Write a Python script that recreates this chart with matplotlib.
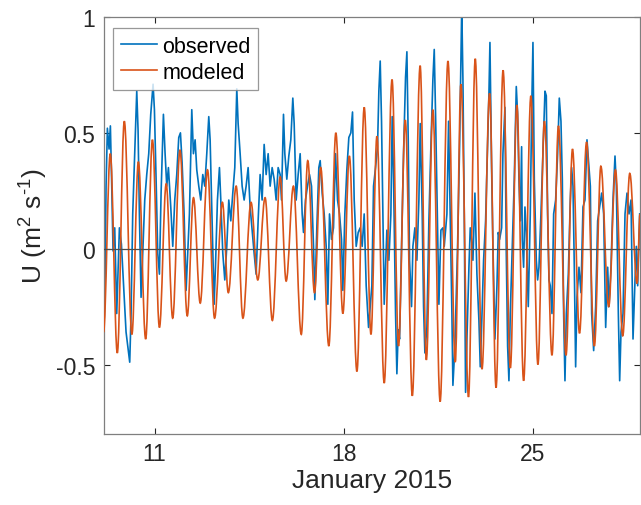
import matplotlib.pyplot as plt
from matplotlib.ticker import FixedLocator, FixedFormatter
from matplotlib.path import Path
from matplotlib.patches import PathPatch
from matplotlib.lines import Line2D

plt.rcParams['font.family'] = ['Liberation Sans', 'DejaVu Sans']
plt.rcParams['mathtext.fontset'] = 'custom'
plt.rcParams['mathtext.rm'] = 'Liberation Sans'
plt.rcParams['mathtext.it'] = 'Liberation Sans:italic'

# time axis is day of January 2015
obs_day = [9.11, 9.16, 9.204, 9.253, 9.315, 9.364, 9.414, 9.463, 9.525, 9.599, 9.698, 9.772, 9.846, 9.944,
           10.080, 10.130, 10.191, 10.265, 10.340, 10.389, 10.438, 10.500, 10.562, 10.636, 10.710, 10.784,
           10.858, 10.944, 10.994, 11.056, 11.117, 11.179, 11.241, 11.327, 11.389, 11.451, 11.512, 11.599,
           11.673, 11.747, 11.821, 11.895, 11.957, 12.019, 12.093, 12.167, 12.216, 12.290,
           12.377, 12.438, 12.500, 12.562, 12.636, 12.710, 12.784, 12.858, 12.932, 13.006, 13.056, 13.130,
           13.204, 13.253, 13.327, 13.401, 13.451, 13.525, 13.599, 13.673, 13.747, 13.821, 13.895, 13.969,
           14.043, 14.093, 14.167, 14.241, 14.315, 14.389, 14.463, 14.537, 14.611, 14.685, 14.759, 14.833,
           14.907, 14.981, 15.056, 15.130, 15.204, 15.278, 15.352, 15.426, 15.500, 15.574,
           15.648, 15.698, 15.772, 15.821, 15.895, 15.969, 16.043, 16.117, 16.167, 16.241, 16.315, 16.389,
           16.463, 16.512, 16.586, 16.660, 16.735, 16.809, 16.883, 16.932, 17.006, 17.080, 17.130, 17.204,
           17.278, 17.352, 17.414, 17.475, 17.549, 17.623, 17.698, 17.772, 17.846, 17.920, 17.969, 18.043,
           18.117, 18.191, 18.265, 18.327, 18.389, 18.463, 18.537, 18.611, 18.685, 18.759, 18.833, 18.920,
           19.043, 19.105, 19.179, 19.253, 19.302, 19.352, 19.401, 19.451, 19.500, 19.549, 19.599, 19.673,
           19.747, 19.796, 19.846, 19.920, 19.969, 20.019, 20.068, 20.142, 20.216, 20.290, 20.340, 20.389,
           20.438, 20.512, 20.562, 20.636, 20.710, 20.784, 20.833, 20.907, 20.957, 21.006, 21.080, 21.154,
           21.228, 21.302, 21.352, 21.401, 21.451, 21.525, 21.599, 21.673, 21.722, 21.821, 21.883, 21.944,
           22.006, 22.043, 22.117, 22.216, 22.290, 22.364,
           22.377, 22.414, 22.463, 22.512, 22.562, 22.636, 22.685, 22.735, 22.784, 22.858, 22.932, 23.006,
           23.056, 23.105, 23.179, 23.253, 23.327, 23.377, 23.414, 23.475, 23.525, 23.599, 23.673, 23.722,
           23.772, 23.846, 23.895, 23.969, 24.019, 24.068, 24.117, 24.167, 24.241, 24.315, 24.389, 24.438,
           24.488, 24.537, 24.586, 24.611, 24.660, 24.710, 24.759, 24.833, 24.907, 24.957, 25.006, 25.056,
           25.130, 25.179, 25.228, 25.302, 25.377, 25.451, 25.500, 25.549, 25.599,
           25.648, 25.710, 25.772, 25.846, 25.920, 25.981, 26.043, 26.093, 26.142, 26.191, 26.241, 26.315,
           26.389, 26.438, 26.488, 26.537, 26.586, 26.636, 26.710, 26.784, 26.858, 26.932, 27.006, 27.080,
           27.130, 27.179, 27.253, 27.327, 27.401, 27.475, 27.549, 27.623, 27.698, 27.772, 27.821, 27.895,
           27.969, 28.043, 28.093, 28.167, 28.216, 28.265, 28.340, 28.414, 28.488, 28.562, 28.636, 28.710,
           28.784, 28.833, 28.883, 28.957]
obs_val = [-0.40, -0.20, 0.27, 0.52, 0.43, 0.53, 0.27, -0.01, 0.09, -0.28, 0.09, 0.02, -0.14, -0.36,
           -0.49, -0.28, 0.15, 0.41, 0.68, 0.51, 0.15, -0.21, -0.02, 0.21, 0.32, 0.41,
           0.58, 0.71, 0.60, 0.30, -0.02, -0.11, 0.24, 0.58, 0.41, 0.27, 0.35, 0.18,
           0.01, 0.21, 0.32, 0.48, 0.50, 0.37, 0.15, -0.18, -0.05, 0.15,
           0.60, 0.41, 0.47, 0.34, 0.27, 0.21, 0.32, 0.27, 0.41, 0.57, 0.47, 0.12,
           -0.24, -0.08, 0.21, 0.35, 0.21, -0.02, -0.135, 0.01, 0.21, 0.12, 0.24, 0.35,
           0.69, 0.54, 0.41, 0.27, 0.21, 0.27, 0.35, 0.18, 0.08, -0.02, -0.11, 0.12,
           0.32, 0.21, 0.45, 0.32, 0.41, 0.27, 0.35, 0.30, 0.21, 0.35,
           0.32, 0.21, 0.58, 0.41, 0.30, 0.40, 0.47, 0.65, 0.54, 0.21, 0.32, 0.41,
           0.15, 0.07, 0.21, 0.27, 0.32, 0.27, 0.01, -0.22, 0.09, 0.35, 0.38, 0.24,
           0.15, 0.01, -0.24, 0.15, 0.04, 0.09, 0.41, 0.21, 0.15, 0.04, -0.18, 0.15,
           0.34, 0.48, 0.50, 0.59, 0.21, 0.01, 0.07, 0.09, 0.01, 0.15, -0.16, -0.34,
           -0.16, 0.27, 0.35, 0.44, 0.68, 0.81, 0.55, 0.15, -0.24, -0.08, 0.08, -0.05,
           0.15, 0.57, 0.30, -0.28, -0.54, -0.35, -0.39, 0.01, 0.41, 0.74, 0.85, 0.47,
           -0.05, -0.25, 0.01, 0.09, -0.05, 0.21, 0.54, 0.15, -0.25, -0.45, -0.34, 0.12,
           0.44, 0.73, 0.86, 0.58, 0.24, -0.24, 0.08, 0.09, 0.01, 0.15, 0.55, 0.15,
           -0.28, -0.59, -0.42, 0.01, 0.44, 1.00,
           1.00, 0.73, 0.15, -0.62, -0.39, -0.08, 0.09, 0.04, -0.05, 0.24, -0.11, -0.31,
           -0.51, -0.34, -0.05, 0.12, 0.44, 0.67, 0.89, 0.35, 0.01, -0.39, -0.16, 0.07,
           0.04, 0.09, 0.41, 0.61, -0.02, -0.42, -0.57, -0.28, 0.01, 0.30, 0.70, 0.58,
           0.30, 0.12, 0.44, 0.04, -0.08, 0.18, 0.07, -0.25, 0.15, 0.58, 0.89, 0.30,
           -0.05, -0.135, -0.08, 0.15, 0.41, 0.68, 0.66, 0.15, -0.135,
           -0.16, -0.28, 0.15, 0.21, 0.41, 0.65, 0.55, 0.30, -0.28, -0.57, -0.28, -0.11,
           0.21, 0.35, 0.27, -0.08, -0.51, -0.21, -0.08, -0.19, 0.18, 0.21, 0.47, 0.35,
           0.27, -0.28, -0.44, -0.25, 0.12, 0.18, 0.24, 0.15, -0.34, -0.08, -0.25, -0.08,
           0.21, 0.40, 0.27, -0.28, -0.57, -0.36, -0.28, 0.15, 0.24, 0.15, 0.21, -0.39,
           -0.135, 0.01, -0.16, 0.15]

# modeled: successive high/low water extremes
mod_day = [9.11, 9.36, 9.62, 9.88, 10.16, 10.40, 10.67, 10.92, 11.18, 11.43, 11.67, 11.94, 12.21, 12.44,
           12.69, 12.96, 13.22, 13.51, 13.73, 14.02, 14.27, 14.57, 14.82, 15.09, 15.36, 15.65, 15.87,
           16.14, 16.43, 16.67, 16.92, 17.15, 17.45, 17.71, 17.97, 18.21, 18.49, 18.76, 19.01, 19.23,
           19.50, 19.79, 20.03, 20.28, 20.54, 20.83, 21.06, 21.30, 21.57, 21.86, 22.13, 22.34, 22.62,
           22.87, 23.12, 23.40, 23.64, 23.90, 24.17, 24.41, 24.66, 24.93, 25.19, 25.43, 25.71, 25.95,
           26.23, 26.47, 26.73, 26.99, 27.28, 27.52, 27.81, 28.06, 28.33, 28.59, 28.86, 28.97]
mod_val = [-0.36, 0.41, -0.45, 0.55, -0.37, 0.375, -0.39, 0.47, -0.34, 0.28, -0.30, 0.425, -0.29, 0.22,
           -0.235, 0.34, -0.30, 0.20, -0.19, 0.27, -0.30, 0.20, -0.135, 0.22, -0.31, 0.31, -0.14,
           0.27, -0.37, 0.38, -0.19, 0.35, -0.42, 0.50, -0.28, 0.40, -0.53, 0.61, -0.37, 0.485,
           -0.58, 0.73, -0.42, 0.555, -0.635, 0.79, -0.48, 0.60, -0.66, 0.81, -0.49, 0.71, -0.64,
           0.82, -0.52, 0.67, -0.60, 0.77, -0.515, 0.62, -0.57, 0.66, -0.50, 0.55, -0.46, 0.53,
           -0.46, 0.43, -0.365, 0.46, -0.42, 0.356, -0.25, 0.34, -0.376, 0.325, -0.15, 0.15]

xticks = [11, 18, 25]
yticks = [-0.5, 0, 0.5, 1]
ytick_labels = ['-0.5', '0', '0.5', '1']

c_obs = '#0072BD'
c_mod = '#D95319'

fig = plt.figure(figsize=(6.41, 5.06), dpi=100)
ax = fig.add_axes([0.1615, 0.1403, 0.8370, 0.8241])

ax.plot(obs_day, obs_val, color=c_obs, lw=1.2, zorder=2)

# modeled curve: smooth bezier segments between the extremes (flat tangent at each extreme)
verts = [(mod_day[0], mod_val[0])]
codes = [Path.MOVETO]
for i in range(len(mod_day) - 1):
    d = (mod_day[i + 1] - mod_day[i]) * 0.364
    verts += [(mod_day[i] + d, mod_val[i]), (mod_day[i + 1] - d, mod_val[i + 1]),
              (mod_day[i + 1], mod_val[i + 1])]
    codes += [Path.CURVE4] * 3
ax.add_patch(PathPatch(Path(verts, codes), fill=False, edgecolor=c_mod, lw=1.2,
                       transform=ax.transData, clip_on=True, zorder=3))
ax.axhline(0, color='#4d4d4d', lw=0.9, zorder=5)

ax.set_xlim(9.11, 28.97)
ax.set_ylim(-0.8, 1)
ax.xaxis.set_major_locator(FixedLocator(xticks))
ax.xaxis.set_major_formatter(FixedFormatter([str(t) for t in xticks]))
ax.yaxis.set_major_locator(FixedLocator(yticks))
ax.yaxis.set_major_formatter(FixedFormatter(ytick_labels))
ax.tick_params(direction='in', length=4.5, width=0.8, top=True, right=True,
               labelsize=16.5, colors='#262626', pad=6)
for s in ax.spines.values():
    s.set_color('#7f7f7f')
    s.set_linewidth(0.9)

ax.set_xlabel('January 2015', fontsize=19, color='#262626', labelpad=2)
ax.set_ylabel('U (m$^2$ s$^{\\text{-}1}$)', fontsize=19, color='#262626', labelpad=4)

handles = [Line2D([], [], color=c_obs, lw=1.2), Line2D([], [], color=c_mod, lw=1.2)]
leg = ax.legend(handles, ['observed', 'modeled'], loc='upper left',
                bbox_to_anchor=(0.0177, 0.9736), borderaxespad=0,
                fontsize=15.5, frameon=True, fancybox=False, edgecolor='#7f7f7f',
                handlelength=1.7, handletextpad=0.25, labelspacing=0.25, borderpad=0.35)
leg.get_frame().set_linewidth(0.9)

fig.savefig('out.png', dpi=100)
